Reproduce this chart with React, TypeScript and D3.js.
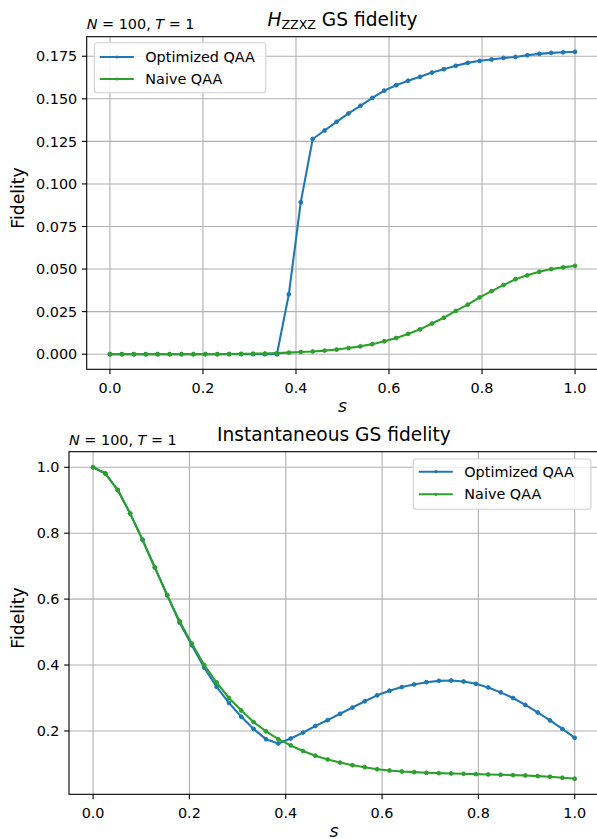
import React from 'react';
import * as d3 from 'd3';

// Anneal parameter grid (40 samples from 0 to 1)
const S_GRID = [
  0, 0.0256, 0.0513, 0.0769, 0.1026, 0.1282, 0.1538, 0.1795, 0.2051, 0.2308,
  0.2564, 0.2821, 0.3077, 0.3333, 0.359, 0.3846, 0.4103, 0.4359, 0.4615, 0.4872,
  0.5128, 0.5385, 0.5641, 0.5897, 0.6154, 0.641, 0.6667, 0.6923, 0.7179, 0.7436,
  0.7692, 0.7949, 0.8205, 0.8462, 0.8718, 0.8974, 0.9231, 0.9487, 0.9744, 1.0,
];

// H_ZZXZ ground-state fidelity
const ZZXZ_OPTIMIZED = [
  0, 0, 0, 0, 0, 0, 0, 0, 0, 0,
  0, 0, 0, 0, 0, 0.0352, 0.0893, 0.1264, 0.1314, 0.1365,
  0.1414, 0.1459, 0.1505, 0.1548, 0.158, 0.1606, 0.1629, 0.1654, 0.1674, 0.1694,
  0.1711, 0.1723, 0.1731, 0.174, 0.1746, 0.1756, 0.1764, 0.177, 0.1773, 0.1776,
];
const ZZXZ_NAIVE = [
  0, 0, 0, 0, 0, 0, 0, 0, 0, 0,
  0.0001, 0.0002, 0.0003, 0.0004, 0.0006, 0.0009, 0.0013, 0.0016, 0.0021, 0.0027,
  0.0036, 0.0046, 0.0059, 0.0076, 0.0095, 0.0119, 0.0146, 0.018, 0.0214, 0.0254,
  0.0291, 0.0334, 0.037, 0.0406, 0.044, 0.0463, 0.0484, 0.05, 0.051, 0.0519,
];

// Instantaneous ground-state fidelity
const INST_OPTIMIZED = [
  1.0, 0.981, 0.931, 0.86, 0.78, 0.696, 0.612, 0.529, 0.46, 0.392,
  0.334, 0.285, 0.243, 0.206, 0.175, 0.162, 0.177, 0.195, 0.215, 0.233,
  0.252, 0.271, 0.29, 0.308, 0.322, 0.333, 0.341, 0.348, 0.352, 0.353,
  0.35, 0.343, 0.332, 0.317, 0.3, 0.279, 0.256, 0.232, 0.206, 0.179,
];
const INST_NAIVE = [
  1.0, 0.981, 0.931, 0.86, 0.78, 0.696, 0.612, 0.533, 0.465, 0.4,
  0.347, 0.3, 0.262, 0.227, 0.199, 0.175, 0.156, 0.139, 0.125, 0.1135,
  0.104, 0.096, 0.09, 0.084, 0.08, 0.077, 0.075, 0.073, 0.072, 0.071,
  0.07, 0.069, 0.068, 0.067, 0.066, 0.065, 0.063, 0.061, 0.058, 0.055,
];

const SERIES_NAMES = ['Optimized QAA', 'Naive QAA'];
const SERIES_COLORS = ['#1f77b4', '#2ca02c'];

const X_TICKS = [0, 0.2, 0.4, 0.6, 0.8, 1.0];
const ZZXZ_Y_TICKS = [0, 0.025, 0.05, 0.075, 0.1, 0.125, 0.15, 0.175];
const INST_Y_TICKS = [0.2, 0.4, 0.6, 0.8, 1.0];

const FONT = "'DejaVu Sans', sans-serif";
const TICK_FS = 14.4;
const LABEL_FS = 17.2;
const TITLE_FS = 18.6;
const TICK_LEN = 4.86;
const TICK_PAD = 4.6;

type Box = { left: number; right: number; top: number; bottom: number };
type LegendSpec = { left: number; top: number; width: number; height: number; rows: number[] };

function paddedDomain(values: number[]): [number, number] {
  const [lo, hi] = d3.extent(values) as [number, number];
  const pad = (hi - lo) * 0.05;
  return [lo - pad, hi + pad];
}

function Panel(props: {
  box: Box;
  series: number[][];
  yTicks: number[];
  yDigits: number;
  legend: LegendSpec;
  title: React.ReactNode;
  titleBaseline: number;
  subtitleBaseline: number;
  ylabelY: number;
  xlabelBaseline: number;
}) {
  const { box, series, yTicks, yDigits, legend } = props;
  const x = d3.scaleLinear().domain([-0.05, 1.05]).range([box.left, box.right]);
  const y = d3.scaleLinear().domain(paddedDomain(series.flat())).range([box.bottom, box.top]);
  const line = d3
    .line<number>()
    .x((_, i) => x(S_GRID[i]))
    .y((v) => y(v));
  const gridColor = '#b0b0b0';
  const cx = (box.left + box.right) / 2;

  return (
    <g>
      {/* grid */}
      {X_TICKS.map((t) => (
        <line key={'gx' + t} x1={x(t)} x2={x(t)} y1={box.top} y2={box.bottom} stroke={gridColor} strokeWidth={1.1} />
      ))}
      {yTicks.map((t) => (
        <line key={'gy' + t} x1={box.left} x2={box.right} y1={y(t)} y2={y(t)} stroke={gridColor} strokeWidth={1.1} />
      ))}

      {/* series */}
      {series.map((vals, si) => (
        <g key={'s' + si}>
          <path d={line(vals) || ''} fill="none" stroke={SERIES_COLORS[si]} strokeWidth={2.08} strokeLinejoin="round" strokeLinecap="square" />
          {vals.map((v, i) => (
            <circle key={i} cx={x(S_GRID[i])} cy={y(v)} r={1.9} fill={SERIES_COLORS[si]} stroke={SERIES_COLORS[si]} strokeWidth={1} />
          ))}
        </g>
      ))}

      {/* spines */}
      <rect x={box.left} y={box.top} width={box.right - box.left} height={box.bottom - box.top} fill="none" stroke="#000" strokeWidth={1.1} />

      {/* x ticks */}
      {X_TICKS.map((t) => (
        <g key={'xt' + t}>
          <line x1={x(t)} x2={x(t)} y1={box.bottom} y2={box.bottom + TICK_LEN} stroke="#000" strokeWidth={1.1} />
          <text x={x(t)} y={box.bottom + TICK_LEN + TICK_PAD + 13.8} fontSize={TICK_FS} fontFamily={FONT} textAnchor="middle" fill="#000">
            {d3.format('.1f')(t)}
          </text>
        </g>
      ))}

      {/* y ticks */}
      {yTicks.map((t) => (
        <g key={'yt' + t}>
          <line x1={box.left - TICK_LEN} x2={box.left} y1={y(t)} y2={y(t)} stroke="#000" strokeWidth={1.1} />
          <text x={box.left - TICK_LEN - TICK_PAD} y={y(t)} dy="0.36em" fontSize={TICK_FS} fontFamily={FONT} textAnchor="end" fill="#000">
            {d3.format('.' + yDigits + 'f')(t)}
          </text>
        </g>
      ))}

      {/* axis labels */}
      <text x={cx} y={props.xlabelBaseline} fontSize={LABEL_FS} fontFamily={FONT} fontStyle="italic" textAnchor="middle">
        s
      </text>
      <text transform={`translate(24,${props.ylabelY}) rotate(-90)`} fontSize={LABEL_FS} fontFamily={FONT} textAnchor="middle">
        Fidelity
      </text>

      {/* titles */}
      <text x={cx} y={props.titleBaseline} fontSize={TITLE_FS} fontFamily={FONT} textAnchor="middle">
        {props.title}
      </text>
      <text x={box.left} y={props.subtitleBaseline} fontSize={TICK_FS} fontFamily={FONT}>
        <tspan fontStyle="italic">N</tspan>
        <tspan> = 100, </tspan>
        <tspan fontStyle="italic">T</tspan>
        <tspan> = 1</tspan>
      </text>

      {/* legend */}
      <g>
        <rect x={legend.left} y={legend.top} width={legend.width} height={legend.height} rx={3} ry={3} fill="#fff" fillOpacity={0.8} stroke="#d0d0d0" strokeWidth={1.1} />
        {SERIES_NAMES.map((name, i) => {
          const ry = legend.top + legend.rows[i];
          const lx = legend.left + 5.5;
          return (
            <g key={name}>
              <line x1={lx} x2={lx + 34} y1={ry} y2={ry} stroke={SERIES_COLORS[i]} strokeWidth={2.08} />
              <circle cx={lx + 17} cy={ry} r={1.6} fill={SERIES_COLORS[i]} />
              <text x={lx + 45.5} y={ry} dy="0.36em" fontSize={TICK_FS} fontFamily={FONT} fill="#000">
                {name}
              </text>
            </g>
          );
        })}
      </g>
    </g>
  );
}

export default function App() {
  return (
    <svg width={597} height={839} style={{ position: 'absolute', left: 0, top: 0, background: '#fff' }}>
      <rect x={0} y={0} width={597} height={839} fill="#fff" />
      <Panel
        box={{ left: 86.7, right: 598.3, top: 36.7, bottom: 369.3 }}
        series={[ZZXZ_OPTIMIZED, ZZXZ_NAIVE]}
        yTicks={ZZXZ_Y_TICKS}
        yDigits={3}
        legend={{ left: 94.3, top: 42.7, width: 171.5, height: 50, rows: [14.3, 36.3] }}
        title={
          <>
            <tspan fontStyle="italic">H</tspan>
            <tspan fontSize={12.6} dy={3}>ZZXZ</tspan>
            <tspan dy={-3}> GS fidelity</tspan>
          </>
        }
        titleBaseline={26}
        subtitleBaseline={29.3}
        ylabelY={198}
        xlabelBaseline={412}
      />
      <Panel
        box={{ left: 69, right: 598.8, top: 451.7, bottom: 794.3 }}
        series={[INST_OPTIMIZED, INST_NAIVE]}
        yTicks={INST_Y_TICKS}
        yDigits={1}
        legend={{ left: 413.3, top: 459, width: 177.7, height: 50.3, rows: [12.7, 35.3] }}
        title={<>Instantaneous GS fidelity</>}
        titleBaseline={441}
        subtitleBaseline={445}
        ylabelY={618}
        xlabelBaseline={837}
      />
    </svg>
  );
}
